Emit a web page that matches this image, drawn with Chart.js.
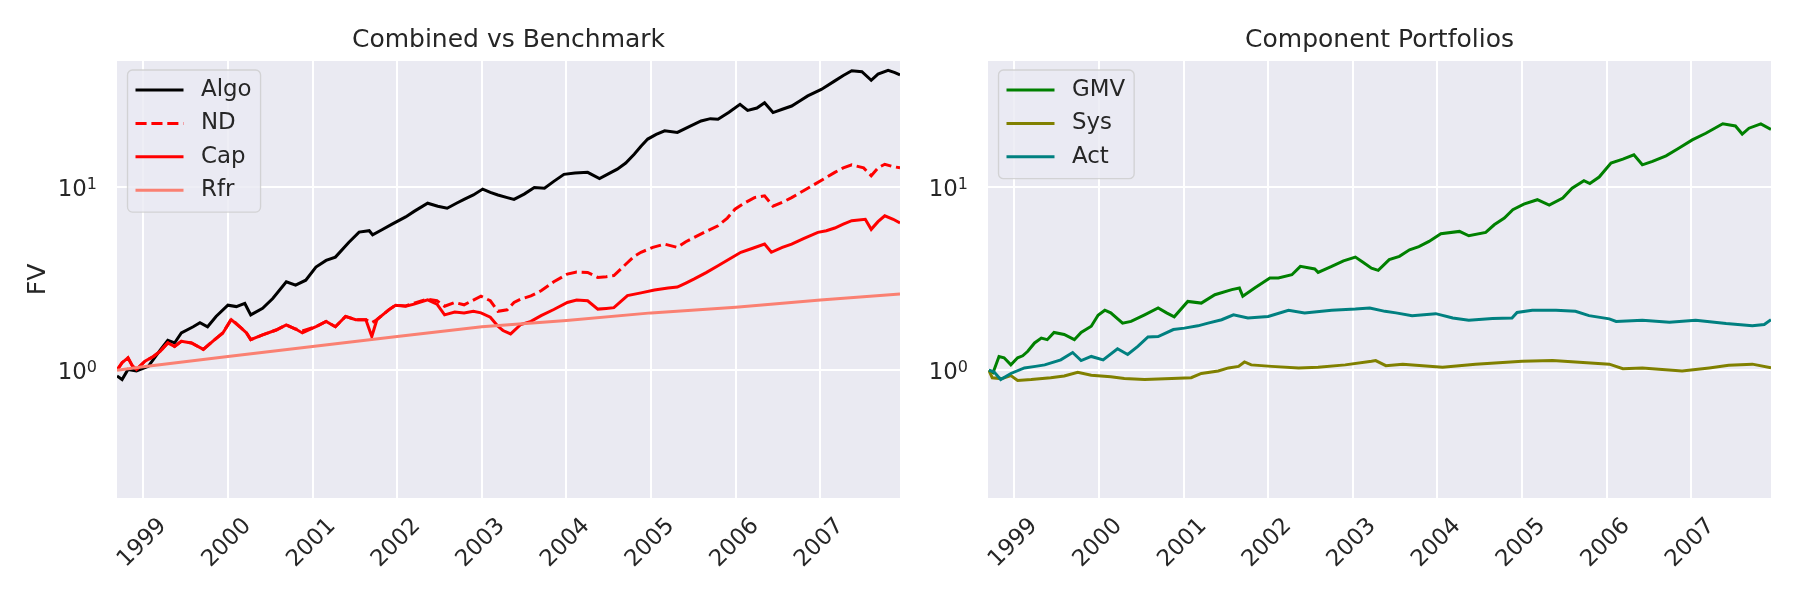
<!DOCTYPE html>
<html>
<head>
<meta charset="utf-8">
<script src="https://cdn.jsdelivr.net/npm/chart.js@4.4.0/dist/chart.umd.min.js"></script>
<style>
  body { margin: 0; background: #ffffff; }
  #wrap { position: relative; width: 1800px; height: 600px; }
  canvas { position: absolute; top: 0; }
</style>
</head>
<body>
<div id="wrap">
  <canvas id="leftChart" width="905" height="600" style="left:0px"></canvas>
  <canvas id="rightChart" width="895" height="600" style="left:905px"></canvas>
</div>
<script>
// ---- data (decimal years, portfolio value) ----
const yearTicks = [1999, 2000, 2001, 2002, 2003, 2004, 2005, 2006, 2007];
const decadeTicks = [1, 10];

const algoDates = [1998.69, 1998.75, 1998.82, 1998.92, 1999.06, 1999.20, 1999.29, 1999.37, 1999.45, 1999.59, 1999.67, 1999.76, 1999.86, 2000.00, 2000.10, 2000.20, 2000.27, 2000.41, 2000.53, 2000.69, 2000.80, 2000.92, 2001.04, 2001.16, 2001.27, 2001.43, 2001.55, 2001.67, 2001.71, 2001.82, 2001.94,
  2002.10, 2002.20, 2002.36, 2002.48, 2002.59, 2002.70, 2002.79, 2002.90, 2003.01, 2003.10, 2003.19, 2003.30, 2003.38, 2003.50, 2003.62, 2003.74, 2003.85, 2003.97, 2004.10, 2004.25, 2004.39, 2004.50, 2004.60, 2004.70, 2004.80, 2004.88, 2004.96, 2005.06, 2005.16, 2005.31, 2005.45, 2005.59, 2005.70, 2005.79, 2005.92, 2006.05, 2006.14, 2006.25, 2006.34, 2006.44, 2006.55, 2006.66, 2006.76, 2006.85, 2007.01, 2007.17, 2007.27, 2007.37, 2007.49, 2007.60, 2007.68, 2007.80, 2007.88, 2007.94];
const algoValues = [0.93, 0.89, 1.01, 0.99, 1.05, 1.29, 1.46, 1.41, 1.60, 1.73, 1.82, 1.73, 1.97, 2.27, 2.23, 2.32, 2.01, 2.18, 2.47, 3.05, 2.92, 3.11, 3.67, 3.99, 4.16, 5.02, 5.70, 5.80, 5.50, 5.87, 6.30,
  6.90, 7.40, 8.20, 7.90, 7.70, 8.20, 8.60, 9.10, 9.80, 9.40, 9.10, 8.80, 8.60, 9.20, 10.0, 9.90, 10.8, 11.8, 12.0, 12.1, 11.2, 11.9, 12.6, 13.6, 15.2, 16.8, 18.4, 19.5, 20.4, 20.0, 21.5, 23.1, 23.8, 23.6, 25.8, 28.5, 26.4, 27.2, 29.1, 25.7, 26.8, 27.9, 29.8, 31.7, 34.4, 38.3, 41.0, 43.5, 43.0, 38.6, 41.7, 43.7, 42.5, 41.3];

const ndDates = [1998.69, 1998.75, 1998.82, 1998.87, 1998.92, 1999.02, 1999.12, 1999.20, 1999.29, 1999.37, 1999.45, 1999.57, 1999.71, 1999.82, 1999.94, 2000.04, 2000.14, 2000.22, 2000.27, 2000.41, 2000.57, 2000.69, 2000.80, 2000.88, 2001.04, 2001.16, 2001.27, 2001.39, 2001.51, 2001.63, 2001.70, 2001.76, 2001.90, 2001.98,
  2002.10, 2002.20, 2002.36, 2002.47, 2002.56, 2002.68, 2002.79, 2002.90, 2002.99, 2003.10, 2003.19, 2003.30, 2003.38, 2003.46, 2003.58, 2003.70, 2003.85, 2004.01, 2004.12, 2004.25, 2004.37, 2004.47, 2004.56, 2004.70, 2004.80, 2004.88, 2005.02, 2005.16, 2005.31, 2005.41, 2005.51, 2005.65, 2005.79, 2005.90, 2005.99, 2006.10, 2006.22, 2006.34, 2006.44, 2006.55, 2006.66, 2006.80, 2006.93, 2007.05, 2007.17, 2007.27, 2007.37, 2007.51, 2007.60, 2007.68, 2007.76, 2007.86, 2007.94];
const ndValues = [1.00, 1.10, 1.17, 1.06, 1.01, 1.12, 1.19, 1.27, 1.41, 1.35, 1.44, 1.41, 1.30, 1.44, 1.60, 1.91, 1.73, 1.60, 1.47, 1.56, 1.66, 1.77, 1.68, 1.64, 1.73, 1.85, 1.73, 1.97, 1.89, 1.89, 1.82, 1.89, 2.14, 2.27,
  2.25, 2.33, 2.45, 2.40, 2.24, 2.35, 2.28, 2.42, 2.54, 2.40, 2.10, 2.14, 2.35, 2.45, 2.55, 2.72, 3.05, 3.36, 3.45, 3.43, 3.22, 3.25, 3.30, 3.80, 4.20, 4.42, 4.70, 4.90, 4.70, 5.05, 5.33, 5.75, 6.17, 6.80, 7.60, 8.20, 8.80, 9.00, 7.90, 8.30, 8.80, 9.60, 10.4, 11.2, 12.1, 12.8, 13.3, 12.8, 11.6, 12.8, 13.4, 13.0, 12.8];

const capDates = [1998.69, 1998.75, 1998.82, 1998.87, 1998.92, 1999.02, 1999.12, 1999.20, 1999.29, 1999.37, 1999.45, 1999.57, 1999.71, 1999.82, 1999.94, 2000.04, 2000.14, 2000.22, 2000.27, 2000.41, 2000.57, 2000.69, 2000.80, 2000.88, 2001.04, 2001.16, 2001.27, 2001.39, 2001.51, 2001.63, 2001.70, 2001.76, 2001.90, 2001.98,
  2002.10, 2002.20, 2002.36, 2002.47, 2002.56, 2002.68, 2002.79, 2002.90, 2002.99, 2003.10, 2003.19, 2003.25, 2003.34, 2003.46, 2003.58, 2003.70, 2003.85, 2004.01, 2004.12, 2004.25, 2004.37, 2004.47, 2004.56, 2004.72, 2004.88, 2005.04, 2005.20, 2005.31, 2005.41, 2005.51, 2005.65, 2005.79, 2005.92, 2006.06, 2006.20, 2006.34, 2006.42, 2006.55, 2006.66, 2006.80, 2006.97, 2007.07, 2007.17, 2007.27, 2007.37, 2007.53, 2007.60, 2007.68, 2007.76, 2007.86, 2007.94];
const capValues = [1.00, 1.10, 1.17, 1.06, 1.01, 1.12, 1.19, 1.27, 1.41, 1.35, 1.44, 1.41, 1.30, 1.44, 1.60, 1.89, 1.73, 1.60, 1.47, 1.56, 1.66, 1.77, 1.68, 1.60, 1.73, 1.85, 1.73, 1.97, 1.89, 1.89, 1.53, 1.89, 2.14, 2.27,
  2.24, 2.30, 2.43, 2.30, 2.01, 2.08, 2.06, 2.10, 2.06, 1.95, 1.74, 1.65, 1.58, 1.78, 1.85, 1.99, 2.15, 2.35, 2.42, 2.40, 2.16, 2.18, 2.20, 2.56, 2.65, 2.75, 2.82, 2.85, 3.00, 3.16, 3.42, 3.73, 4.05, 4.42, 4.65, 4.90, 4.42, 4.70, 4.90, 5.25, 5.68, 5.80, 6.00, 6.30, 6.58, 6.70, 5.90, 6.50, 7.00, 6.70, 6.40];

const rfrDates = [1998.69, 1999.00, 2000.00, 2001.00, 2002.00, 2003.00, 2004.00, 2005.00, 2006.00, 2007.00, 2007.94];
const rfrValues = [1.00, 1.045, 1.19, 1.35, 1.53, 1.73, 1.87, 2.06, 2.21, 2.42, 2.61];

const gmvDates = [1998.70, 1998.75, 1998.82, 1998.88, 1998.96, 1999.04, 1999.10, 1999.16, 1999.24, 1999.32, 1999.39, 1999.47, 1999.59, 1999.71, 1999.79, 1999.91, 1999.99, 2000.07, 2000.14, 2000.28, 2000.38, 2000.54, 2000.70, 2000.80, 2000.89, 2001.05, 2001.21, 2001.37, 2001.57, 2001.66, 2001.70, 2001.84, 2002.02, 2002.12, 2002.28, 2002.38, 2002.55, 2002.59, 2002.75, 2002.89, 2003.03, 2003.12, 2003.22, 2003.30, 2003.43, 2003.55, 2003.67, 2003.78, 2003.90, 2004.04, 2004.26, 2004.37, 2004.57, 2004.67, 2004.79, 2004.89, 2005.02, 2005.18, 2005.32, 2005.48, 2005.59, 2005.73, 2005.80, 2005.91, 2006.05, 2006.19, 2006.32, 2006.42, 2006.54, 2006.70, 2006.85, 2007.01, 2007.17, 2007.37, 2007.52, 2007.60, 2007.68, 2007.82, 2007.94];
const gmvValues = [1.00, 0.97, 1.19, 1.17, 1.07, 1.17, 1.20, 1.27, 1.41, 1.50, 1.47, 1.61, 1.57, 1.47, 1.61, 1.74, 2.00, 2.13, 2.06, 1.81, 1.85, 2.01, 2.19, 2.06, 1.96, 2.38, 2.33, 2.59, 2.76, 2.82, 2.54, 2.82, 3.20, 3.20, 3.33, 3.70, 3.58, 3.43, 3.70, 3.97, 4.16, 3.90, 3.62, 3.52, 4.03, 4.20, 4.56, 4.75, 5.07, 5.58, 5.75, 5.44, 5.68, 6.25, 6.80, 7.55, 8.10, 8.57, 8.00, 8.75, 9.90, 10.9, 10.5, 11.4, 13.6, 14.3, 15.1, 13.3, 13.9, 14.9, 16.4, 18.2, 19.8, 22.3, 21.7, 19.6, 21.1, 22.3, 20.8];

const sysDates = [1998.70, 1998.74, 1998.85, 1998.96, 1999.04, 1999.20, 1999.43, 1999.59, 1999.75, 1999.91, 2000.14, 2000.30, 2000.54, 2000.86, 2001.09, 2001.21, 2001.41, 2001.53, 2001.65, 2001.72, 2001.80, 2002.04, 2002.36, 2002.59, 2002.91, 2003.22, 2003.27, 2003.39, 2003.59, 2004.06, 2004.45, 2005.00, 2005.36, 2005.63, 2006.03, 2006.19, 2006.42, 2006.89, 2007.21, 2007.44, 2007.72, 2007.94];
const sysValues = [1.00, 0.91, 0.90, 0.935, 0.88, 0.89, 0.91, 0.93, 0.975, 0.94, 0.92, 0.90, 0.89, 0.90, 0.91, 0.96, 0.99, 1.03, 1.05, 1.11, 1.07, 1.05, 1.03, 1.04, 1.07, 1.12, 1.13, 1.06, 1.08, 1.04, 1.08, 1.12, 1.13, 1.11, 1.08, 1.02, 1.03, 0.99, 1.03, 1.065, 1.08, 1.03];

const actDates = [1998.70, 1998.76, 1998.84, 1998.96, 1999.12, 1999.25, 1999.36, 1999.55, 1999.69, 1999.79, 1999.91, 2000.05, 2000.22, 2000.34, 2000.46, 2000.58, 2000.70, 2000.88, 2001.01, 2001.17, 2001.29, 2001.45, 2001.59, 2001.76, 2002.00, 2002.24, 2002.43, 2002.75, 2003.03, 2003.20, 2003.38, 2003.51, 2003.70, 2003.98, 2004.18, 2004.37, 2004.65, 2004.88, 2004.94, 2005.12, 2005.40, 2005.63, 2005.79, 2006.03, 2006.11, 2006.42, 2006.74, 2007.05, 2007.41, 2007.72, 2007.86, 2007.94];
const actValues = [1.00, 0.98, 0.89, 0.96, 1.03, 1.05, 1.07, 1.14, 1.25, 1.13, 1.19, 1.14, 1.31, 1.22, 1.35, 1.52, 1.53, 1.67, 1.70, 1.75, 1.81, 1.89, 2.01, 1.93, 1.97, 2.13, 2.06, 2.13, 2.16, 2.19, 2.10, 2.06, 1.99, 2.04, 1.93, 1.88, 1.92, 1.93, 2.07, 2.13, 2.13, 2.10, 1.99, 1.91, 1.85, 1.88, 1.83, 1.88, 1.80, 1.75, 1.78, 1.89];

// axis limits shared by both panels
const xMin = 1998.69;
const xMax = 2007.94;
const yMin = 0.2;
const yMax = 49.2;

const FONT = "'DejaVu Sans', 'Liberation Sans', sans-serif";
const TEXT_COLOR = "#262626";
const FACE_COLOR = "#eaeaf2";

// zip two arrays into {x, y} points
function toPoints(dates, values) {
  return dates.map((d, i) => ({ x: d, y: values[i] }));
}

function makeDataset(label, dates, values, color, order, dash) {
  return {
    label: label,
    data: toPoints(dates, values),
    borderColor: color,
    backgroundColor: color,
    borderWidth: 3,
    borderDash: dash || [],
    pointRadius: 0,
    tension: 0,
    fill: false,
    order: order,
  };
}

// Draws the axes face, tick labels, titles and the legend (seaborn look)
const panelDecor = {
  id: "panelDecor",
  beforeDraw(chart) {
    const a = chart.chartArea;
    const ctx = chart.ctx;
    ctx.save();
    ctx.fillStyle = FACE_COLOR;
    ctx.fillRect(a.left, a.top, a.right - a.left, a.bottom - a.top);
    ctx.restore();
  },
  afterDraw(chart, args, opts) {
    const a = chart.chartArea;
    const ctx = chart.ctx;
    const xs = chart.scales.x;
    const ys = chart.scales.y;
    ctx.save();
    ctx.fillStyle = TEXT_COLOR;

    // x tick labels, rotated 45 degrees and centred on the tick
    ctx.font = "22.9px " + FONT;
    ctx.textAlign = "center";
    ctx.textBaseline = "middle";
    xs.ticks.forEach((t) => {
      const px = xs.getPixelForValue(t.value);
      ctx.save();
      ctx.translate(px - 1, a.bottom + 45);
      ctx.rotate(-Math.PI / 4);
      ctx.fillText(String(t.value), 0, 0);
      ctx.restore();
    });

    // y tick labels as 10^n
    ys.ticks.forEach((t) => {
      const py = ys.getPixelForValue(t.value);
      const exp = String(Math.round(Math.log10(t.value)));
      const right = a.left - 20;
      ctx.textAlign = "right";
      ctx.textBaseline = "alphabetic";
      ctx.font = "16px " + FONT;
      const expW = ctx.measureText(exp).width;
      ctx.fillText(exp, right, py + 1.5);
      ctx.font = "22.9px " + FONT;
      ctx.fillText("10", right - expW, py + 9);
    });

    // panel title
    ctx.font = "25px " + FONT;
    ctx.textAlign = "center";
    ctx.textBaseline = "alphabetic";
    ctx.fillText(opts.title, (a.left + a.right) / 2, 46.5);

    // y axis label
    if (opts.yLabel) {
      ctx.save();
      ctx.translate(38, (a.top + a.bottom) / 2);
      ctx.rotate(-Math.PI / 2);
      ctx.textBaseline = "middle";
      ctx.fillText(opts.yLabel, 0, 0);
      ctx.restore();
    }

    // legend in the upper left corner
    const items = chart.data.datasets;
    ctx.font = "22.9px " + FONT;
    let maxW = 0;
    items.forEach((d) => {
      maxW = Math.max(maxW, ctx.measureText(d.label).width);
    });
    const boxX = a.left + 10.5;
    const boxY = a.top + 9;
    const rowH = 33.4;
    const boxW = 73.5 + maxW + 9;
    const boxH = items.length * rowH + 8.5;
    ctx.beginPath();
    ctx.roundRect(boxX, boxY, boxW, boxH, 5);
    ctx.fillStyle = "rgba(234,234,242,0.8)";
    ctx.fill();
    ctx.strokeStyle = "rgba(204,204,204,0.8)";
    ctx.lineWidth = 1.3;
    ctx.stroke();
    items.forEach((d, i) => {
      const cy = boxY + 20 + i * rowH;
      ctx.beginPath();
      ctx.setLineDash(d.borderDash || []);
      ctx.strokeStyle = d.borderColor;
      ctx.lineWidth = 3;
      ctx.moveTo(boxX + 8, cy);
      ctx.lineTo(boxX + 56, cy);
      ctx.stroke();
      ctx.setLineDash([]);
      ctx.fillStyle = TEXT_COLOR;
      ctx.textAlign = "left";
      ctx.textBaseline = "middle";
      ctx.fillText(d.label, boxX + 73.5, cy);
    });
    ctx.restore();
  },
};

function buildOptions(title, yLabel, yAxisWidth, padRight) {
  return {
    responsive: false,
    animation: false,
    devicePixelRatio: 1,
    layout: { padding: { left: 0, top: 61, right: padRight, bottom: 0 } },
    scales: {
      x: {
        type: "linear",
        min: xMin,
        max: xMax,
        afterBuildTicks: (scale) => {
          scale.ticks = yearTicks.map((v) => ({ value: v }));
        },
        afterFit: (scale) => {
          scale.height = 102;
        },
        ticks: { display: false },
        grid: { color: "#ffffff", lineWidth: 2, drawTicks: false },
        border: { display: false },
      },
      y: {
        type: "logarithmic",
        min: yMin,
        max: yMax,
        afterBuildTicks: (scale) => {
          scale.ticks = decadeTicks.map((v) => ({ value: v }));
        },
        afterFit: (scale) => {
          scale.width = yAxisWidth;
        },
        ticks: { display: false },
        grid: { color: "#ffffff", lineWidth: 2, drawTicks: false },
        border: { display: false },
      },
    },
    plugins: {
      legend: { display: false },
      tooltip: { enabled: false },
      panelDecor: { title: title, yLabel: yLabel },
    },
  };
}

function renderLeftChart() {
  const ctx = document.getElementById("leftChart").getContext("2d");
  return new Chart(ctx, {
    type: "line",
    data: {
      datasets: [
        makeDataset("Algo", algoDates, algoValues, "#000000", 4),
        makeDataset("ND", ndDates, ndValues, "#ff0000", 3, [11.1, 4.8]),
        makeDataset("Cap", capDates, capValues, "#ff0000", 2),
        makeDataset("Rfr", rfrDates, rfrValues, "#fa8072", 1),
      ],
    },
    options: buildOptions("Combined vs Benchmark", "FV", 117, 5),
    plugins: [panelDecor],
  });
}

function renderRightChart() {
  const ctx = document.getElementById("rightChart").getContext("2d");
  return new Chart(ctx, {
    type: "line",
    data: {
      datasets: [
        makeDataset("GMV", gmvDates, gmvValues, "#008000", 3),
        makeDataset("Sys", sysDates, sysValues, "#808000", 2),
        makeDataset("Act", actDates, actValues, "#008080", 1),
      ],
    },
    options: buildOptions("Component Portfolios", null, 83, 29),
    plugins: [panelDecor],
  });
}

renderLeftChart();
renderRightChart();
</script>
</body>
</html>
